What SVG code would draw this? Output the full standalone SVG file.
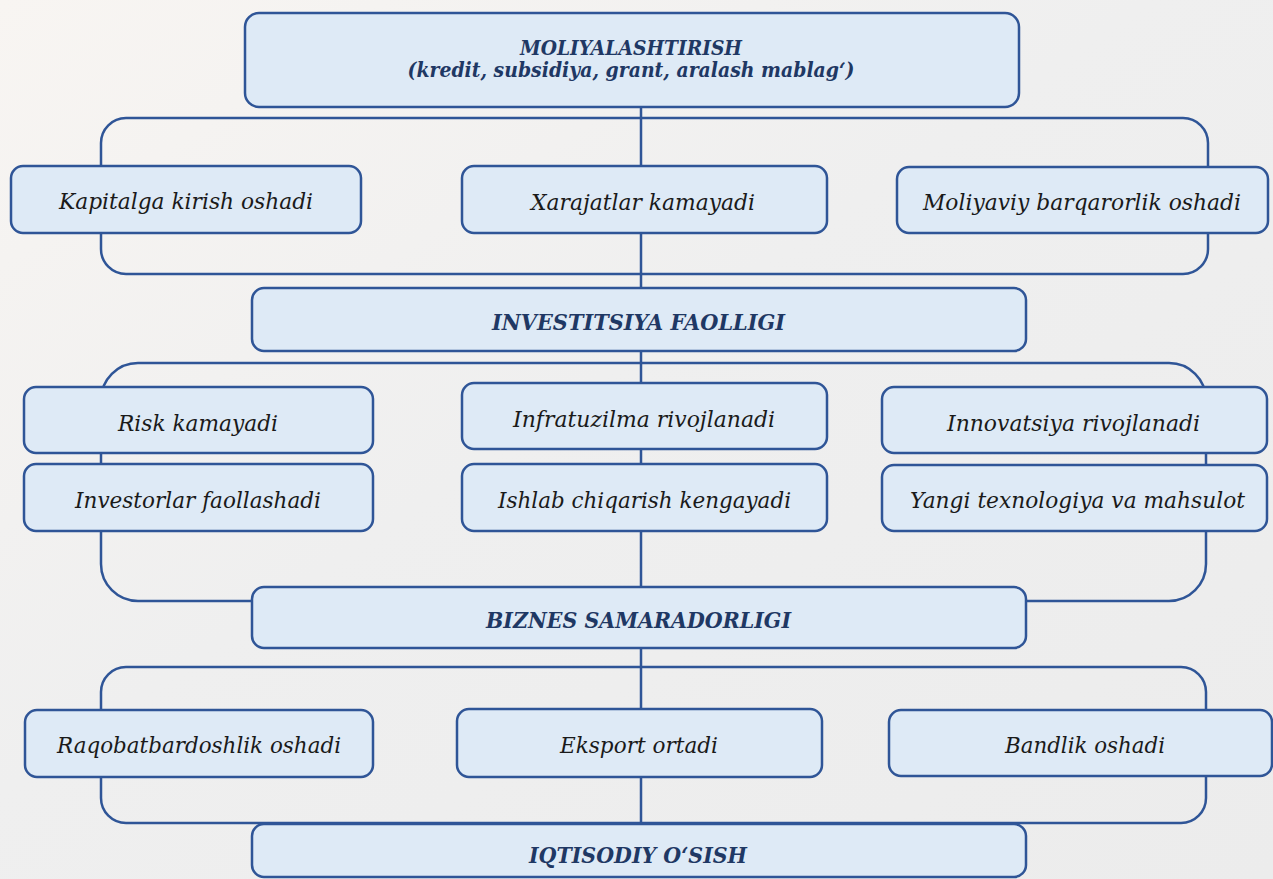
<svg xmlns="http://www.w3.org/2000/svg" width="1273" height="879" viewBox="0 0 1273 879">
<defs>
<linearGradient id="bg" x1="0" y1="0" x2="1" y2="1">
<stop offset="0" stop-color="#f8f5f2"/>
<stop offset="0.45" stop-color="#efefef"/>
<stop offset="1" stop-color="#ececec"/>
</linearGradient>
<style>
.box{fill:#deeaf6;stroke:#2f5597;stroke-width:2.5}
.ln{fill:none;stroke:#2f5597;stroke-width:2.5}
.t{font-family:"DejaVu Serif","Liberation Serif",serif;font-style:italic;font-size:22.5px;fill:#1a1a1a;text-anchor:middle}
.h{font-family:"DejaVu Serif","Liberation Serif",serif;font-style:italic;font-weight:bold;font-size:23px;fill:#1f3864;text-anchor:middle}
.s{font-family:"DejaVu Serif","Liberation Serif",serif;font-style:italic;font-weight:bold;font-size:19.5px;fill:#1f3864;text-anchor:middle}
</style>
</defs>
<rect width="1273" height="879" fill="url(#bg)"/>
<g id="connectors">
<line class="ln" x1="641" y1="107" x2="641" y2="824"/>
<rect class="ln" x="101" y="118" width="1107" height="156" rx="25"/>
<rect class="ln" x="101" y="363" width="1105" height="238" rx="37"/>
<rect class="ln" x="101" y="667" width="1105" height="156" rx="25"/>
</g>
<g id="n-moliya"><rect class="box" x="245" y="13" width="774" height="94" rx="14"/>
<text class="s" x="631" y="55" textLength="222" lengthAdjust="spacingAndGlyphs">MOLIYALASHTIRISH</text>
<text class="s" x="631" y="77" textLength="447" lengthAdjust="spacingAndGlyphs">(kredit, subsidiya, grant, aralash mablag‘)</text></g>
<g id="n-kapital"><rect class="box" x="11" y="166" width="350" height="67" rx="12"/>
<text class="t" x="186" y="209" textLength="254" lengthAdjust="spacingAndGlyphs">Kapitalga kirish oshadi</text></g>
<g id="n-xarajat"><rect class="box" x="462" y="166" width="365" height="67" rx="12"/>
<text class="t" x="643" y="210" textLength="224" lengthAdjust="spacingAndGlyphs">Xarajatlar kamayadi</text></g>
<g id="n-moliyaviy"><rect class="box" x="897" y="167" width="371" height="66" rx="12"/>
<text class="t" x="1082" y="210" textLength="318" lengthAdjust="spacingAndGlyphs">Moliyaviy barqarorlik oshadi</text></g>
<g id="n-invest"><rect class="box" x="252" y="288" width="774" height="63" rx="12"/>
<text class="h" x="638.5" y="330" textLength="293" lengthAdjust="spacingAndGlyphs">INVESTITSIYA FAOLLIGI</text></g>
<g id="n-risk"><rect class="box" x="24" y="387" width="349" height="66" rx="12"/>
<text class="t" x="198" y="431" textLength="160" lengthAdjust="spacingAndGlyphs">Risk kamayadi</text></g>
<g id="n-investorlar"><rect class="box" x="24" y="464" width="349" height="67" rx="12"/>
<text class="t" x="198" y="508" textLength="246" lengthAdjust="spacingAndGlyphs">Investorlar faollashadi</text></g>
<g id="n-infra"><rect class="box" x="462" y="383" width="365" height="66" rx="12"/>
<text class="t" x="644" y="427" textLength="262" lengthAdjust="spacingAndGlyphs">Infratuzilma rivojlanadi</text></g>
<g id="n-ishlab"><rect class="box" x="462" y="464" width="365" height="67" rx="12"/>
<text class="t" x="644.5" y="508" textLength="293" lengthAdjust="spacingAndGlyphs">Ishlab chiqarish kengayadi</text></g>
<g id="n-innov"><rect class="box" x="882" y="387" width="385" height="66" rx="12"/>
<text class="t" x="1073.5" y="431" textLength="253" lengthAdjust="spacingAndGlyphs">Innovatsiya rivojlanadi</text></g>
<g id="n-yangi"><rect class="box" x="882" y="465" width="385" height="66" rx="12"/>
<text class="t" x="1077.5" y="508" textLength="335" lengthAdjust="spacingAndGlyphs">Yangi texnologiya va mahsulot</text></g>
<g id="n-biznes"><rect class="box" x="252" y="587" width="774" height="61" rx="12"/>
<text class="h" x="638.5" y="628" textLength="305" lengthAdjust="spacingAndGlyphs">BIZNES SAMARADORLIGI</text></g>
<g id="n-raqobat"><rect class="box" x="25" y="710" width="348" height="67" rx="12"/>
<text class="t" x="199" y="753" textLength="284" lengthAdjust="spacingAndGlyphs">Raqobatbardoshlik oshadi</text></g>
<g id="n-eksport"><rect class="box" x="457" y="709" width="365" height="68" rx="12"/>
<text class="t" x="639" y="753" textLength="158" lengthAdjust="spacingAndGlyphs">Eksport ortadi</text></g>
<g id="n-bandlik"><rect class="box" x="889" y="710" width="383" height="66" rx="12"/>
<text class="t" x="1085" y="753" textLength="160" lengthAdjust="spacingAndGlyphs">Bandlik oshadi</text></g>
<g id="n-iqtisod"><rect class="box" x="252" y="824" width="774" height="53" rx="12"/>
<text class="h" x="638" y="863" textLength="218" lengthAdjust="spacingAndGlyphs">IQTISODIY O‘SISH</text></g>
</svg>
